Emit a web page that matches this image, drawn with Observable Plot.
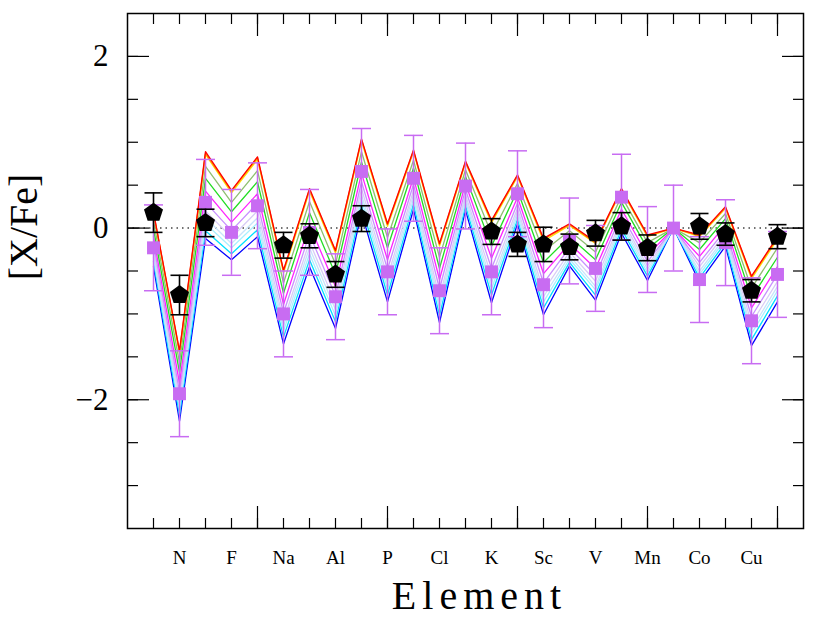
<!DOCTYPE html>
<html><head><meta charset="utf-8">
<script src="https://cdn.jsdelivr.net/npm/d3@7"></script>
<script src="https://cdn.jsdelivr.net/npm/@observablehq/plot@0.6"></script>
<style>body{margin:0;background:#fff}</style>
</head><body><div id="chart"></div>
<script>
// ---------- data ----------
const elements = ["C","N","O","F","Ne","Na","Mg","Al","Si","P","S","Cl","Ar","K","Ca","Sc","Ti","V","Cr","Mn","Fe","Co","Ni","Cu","Zn"];
const atomicNumber = [6,7,8,9,10,11,12,13,14,15,16,17,18,19,20,21,22,23,24,25,26,27,28,29,30];
const labeledElements = ["N","F","Na","Al","P","Cl","K","Sc","V","Mn","Co","Cu"];

// model lines (top -> bottom)
const modelRed      = [0.19,-1.43,0.89,0.44,0.83,-0.49,0.46,-0.26,1.04,0.05,0.91,-0.18,0.78,0.09,0.62,-0.12,0.05,-0.16,0.46,-0.08,0,-0.08,0.25,-0.56,-0.10];
const modelOrange   = [0.18,-1.44,0.87,0.43,0.82,-0.50,0.45,-0.27,1.03,0.04,0.90,-0.19,0.77,0.08,0.61,-0.13,0.04,-0.17,0.45,-0.09,0,-0.09,0.24,-0.57,-0.11];
const modelYellow   = [0.17,-1.46,0.86,0.41,0.80,-0.52,0.43,-0.29,1.01,0.02,0.89,-0.21,0.76,0.06,0.60,-0.15,0.03,-0.18,0.44,-0.10,0,-0.10,0.23,-0.59,-0.13];
const modelKhaki    = [0.08,-1.57,0.72,0.30,0.67,-0.64,0.31,-0.42,0.89,-0.11,0.79,-0.34,0.68,-0.07,0.52,-0.27,-0.03,-0.28,0.37,-0.17,0,-0.17,0.17,-0.70,-0.23];
const modelGreen    = [-0.01,-1.68,0.58,0.19,0.54,-0.76,0.18,-0.54,0.77,-0.23,0.70,-0.47,0.60,-0.21,0.44,-0.40,-0.10,-0.37,0.30,-0.24,0,-0.25,0.11,-0.81,-0.34];
const modelMagenta  = [-0.10,-1.81,0.43,0.07,0.40,-0.89,0.04,-0.68,0.64,-0.37,0.59,-0.60,0.52,-0.35,0.36,-0.53,-0.18,-0.47,0.22,-0.32,0,-0.33,0.04,-0.93,-0.45];
const modelViolet   = [-0.18,-1.91,0.30,-0.03,0.29,-0.99,-0.07,-0.79,0.54,-0.48,0.51,-0.71,0.45,-0.47,0.29,-0.64,-0.23,-0.55,0.16,-0.39,0,-0.40,-0.02,-1.03,-0.54];
const modelLavender = [-0.25,-1.99,0.20,-0.11,0.20,-1.08,-0.16,-0.88,0.46,-0.57,0.44,-0.81,0.39,-0.56,0.23,-0.73,-0.28,-0.62,0.11,-0.44,0,-0.45,-0.06,-1.11,-0.62];
const modelPaleBlue = [-0.30,-2.05,0.12,-0.18,0.12,-1.14,-0.23,-0.95,0.39,-0.64,0.39,-0.88,0.35,-0.64,0.19,-0.80,-0.32,-0.68,0.07,-0.48,0,-0.50,-0.10,-1.18,-0.68];
const modelPaleCyan = [-0.34,-2.11,0.05,-0.23,0.06,-1.20,-0.30,-1.02,0.33,-0.71,0.34,-0.94,0.31,-0.71,0.15,-0.86,-0.36,-0.72,0.03,-0.52,0,-0.54,-0.13,-1.23,-0.73];
const modelCyan     = [-0.39,-2.18,-0.03,-0.30,-0.02,-1.27,-0.37,-1.09,0.26,-0.78,0.28,-1.02,0.26,-0.78,0.10,-0.93,-0.40,-0.78,-0.01,-0.56,0,-0.58,-0.17,-1.30,-0.79];
const modelBlue     = [-0.45,-2.25,-0.12,-0.37,-0.10,-1.35,-0.45,-1.17,0.18,-0.86,0.22,-1.10,0.21,-0.87,0.05,-1.01,-0.44,-0.84,-0.06,-0.61,0,-0.63,-0.21,-1.37,-0.86];
const modelColors = ["#ff0000","#ff8800","#ffe000","#8fbf70","#22dd22","#ff22ff","#c890ff","#d8ccf6","#c8e4fa","#a8f0ff","#00e0ff","#0000ff"];

// observed star (black pentagons)
const starElements = ["C","N","O","Na","Mg","Al","Si","K","Ca","Sc","Ti","V","Cr","Mn","Co","Ni","Cu","Zn"];
const starValues   = [0.18,-0.78,0.06,-0.20,-0.09,-0.54,0.11,-0.04,-0.19,-0.19,-0.22,-0.06,0.02,-0.23,0.02,-0.07,-0.73,-0.10];
const starErrors   = [0.23,0.23,0.16,0.15,0.14,0.15,0.15,0.15,0.14,0.20,0.15,0.15,0.16,0.15,0.15,0.13,0.13,0.14];

// comparison (violet squares), all elements
const compValues = [-0.23,-1.93,0.30,-0.05,0.26,-1.00,-0.05,-0.80,0.66,-0.51,0.58,-0.73,0.49,-0.51,0.40,-0.66,-0.15,-0.47,0.36,-0.25,0.00,-0.60,-0.17,-1.08,-0.54];
const compErrors = [0.5,0.5,0.5,0.5,0.5,0.5,0.5,0.5,0.5,0.5,0.5,0.5,0.5,0.5,0.5,0.5,0.5,0.5,0.5,0.5,0.5,0.5,0.5,0.5,0.5];

const xMinorTicks = atomicNumber;
const xMajorTicks = [10,15,20,25,30];
const yMinorTicks = [-3,-2.5,-2,-1.5,-1,-0.5,0,0.5,1,1.5,2];
const yMajorTicks = [-2,0,2];

// ---------- build tables ----------
const zOf = Object.fromEntries(elements.map((e,i)=>[e, atomicNumber[i]]));
const models = [modelBlue,modelCyan,modelPaleCyan,modelPaleBlue,modelLavender,modelViolet,modelMagenta,modelGreen,modelKhaki,modelYellow,modelOrange,modelRed];
const colorsBottomUp = modelColors.slice().reverse();
const star = starElements.map((e,i)=>({z: zOf[e], v: starValues[i], e: starErrors[i]}));
const comp = elements.map((e,i)=>({z: atomicNumber[i], v: compValues[i], e: compErrors[i]}));

const pentagon = {draw(ctx, size){
  const R = Math.sqrt(size/Math.PI);
  for (let i=0;i<5;i++){const a=-Math.PI/2+i*2*Math.PI/5; const x=R*Math.cos(a), y=R*Math.sin(a); i?ctx.lineTo(x,y):ctx.moveTo(x,y);}
  ctx.closePath();
}};
const cap = {draw(ctx, size){const R=Math.sqrt(size/Math.PI); ctx.moveTo(-R,0); ctx.lineTo(R,0);}};

const FONT = "Liberation Serif, serif";
const violet = "#c86cf2";

const lineMarks = models.map((m,k)=>Plot.line(atomicNumber.map((z,i)=>({z, v:m[i]})), {x:"z", y:"v", stroke: colorsBottomUp[k], strokeWidth:1.3}));
const tickOpts = {tickFormat:null, fill:"none", label:null, strokeWidth:1.2};

const chart = Plot.plot({
  width: 822, height: 620,
  marginLeft: 127, marginRight: 19, marginTop: 13, marginBottom: 92,
  style: {fontFamily: FONT, background: "#fff", color: "#000"},
  x: {domain: [5, 31], axis: null},
  y: {domain: [-3.5, 2.5], axis: null},
  marks: [
    Plot.ruleY([0], {stroke:"#444", strokeWidth:1.5, strokeDasharray:"1.5,4"}),
    ...lineMarks,
    // comparison
    Plot.ruleX(comp, {x:"z", y1:d=>d.v-d.e, y2:d=>d.v+d.e, stroke:violet, strokeWidth:1.5}),
    Plot.dot(comp, {x:"z", y:d=>d.v-d.e, symbol:cap, r:9.5, stroke:violet, fill:"none", strokeWidth:1.5}),
    Plot.dot(comp, {x:"z", y:d=>d.v+d.e, symbol:cap, r:9.5, stroke:violet, fill:"none", strokeWidth:1.5}),
    Plot.dot(comp, {x:"z", y:"v", symbol:"square", r:7.3, fill:violet, stroke:"none"}),
    // star
    Plot.ruleX(star, {x:"z", y1:d=>d.v-d.e, y2:d=>d.v+d.e, stroke:"#000", strokeWidth:1.6}),
    Plot.dot(star, {x:"z", y:d=>d.v-d.e, symbol:cap, r:9, stroke:"#000", fill:"none", strokeWidth:1.6}),
    Plot.dot(star, {x:"z", y:d=>d.v+d.e, symbol:cap, r:9, stroke:"#000", fill:"none", strokeWidth:1.6}),
    Plot.dot(star, {x:"z", y:"v", symbol:pentagon, r:10, fill:"#000", stroke:"none"}),
    // axes ticks (inward)
    Plot.axisX(xMinorTicks, {anchor:"bottom", tickSize:-10, ...tickOpts}),
    Plot.axisX(xMajorTicks, {anchor:"bottom", tickSize:-22, ...tickOpts}),
    Plot.axisX(xMinorTicks, {anchor:"top", tickSize:-10, ...tickOpts}),
    Plot.axisX(xMajorTicks, {anchor:"top", tickSize:-22, ...tickOpts}),
    Plot.axisY(yMinorTicks, {anchor:"left", tickSize:-11, ...tickOpts}),
    Plot.axisY(yMajorTicks, {anchor:"left", tickSize:-22, ...tickOpts}),
    Plot.axisY(yMinorTicks, {anchor:"right", tickSize:-11, ...tickOpts}),
    Plot.axisY(yMajorTicks, {anchor:"right", tickSize:-22, ...tickOpts}),
    // tick labels
    Plot.axisX(labeledElements.map(e=>zOf[e]), {anchor:"bottom", tickSize:0, tickPadding:22, tickFormat:z=>elements[atomicNumber.indexOf(z)], fontSize:19, label:null}),
    Plot.axisY(yMajorTicks, {anchor:"left", tickSize:0, tickPadding:19, tickFormat:d=>d<0?"\u2212"+Math.abs(d):String(d), fontSize:31, label:null}),
    Plot.frame({stroke:"#000", strokeWidth:1.5}),
    Plot.text(["Element"], {frameAnchor:"bottom", dx:14, dy:80, fontSize:40, fill:"#000"}),
    Plot.text(["[X/Fe]"], {frameAnchor:"left", textAnchor:"middle", dx:-103, dy:-44, rotate:-90, fontSize:40, fill:"#000"})
  ]
});
document.getElementById("chart").appendChild(chart);
d3.select(chart).selectAll("text").filter(function(){return this.textContent==="Element";}).style("letter-spacing","6px");
</script>
</body></html>
